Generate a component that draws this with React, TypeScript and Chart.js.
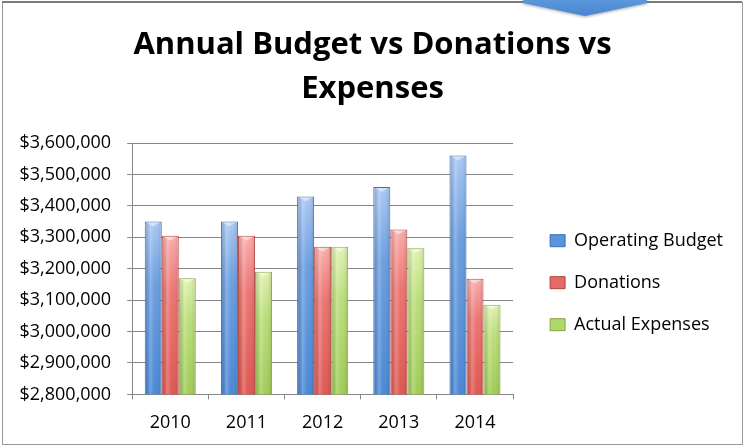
import React, { useEffect, useRef } from 'react';
import { Chart, registerables } from 'chart.js';

Chart.register(...registerables);

const categories = ['2010', '2011', '2012', '2013', '2014'];
const seriesNames = ['Operating Budget', 'Donations', 'Actual Expenses'];
const operatingBudget = [3350000, 3350000, 3430000, 3460000, 3560000];
const donations = [3305000, 3305000, 3270000, 3325000, 3168000];
const actualExpenses = [3170000, 3190000, 3270000, 3265000, 3085000];
const yMin = 2800000;
const yMax = 3600000;
const yStep = 100000;
const titleLines = ['Annual Budget vs Donations vs', 'Expenses'];

const FONT = "'Open Sans', 'DejaVu Sans', sans-serif";
const GRID = '#868686';

const palette = [
  { top: '#a9c8f4', mid: '#6c9fe0', bottom: '#4a88d6', border: '#3b6fb0', legend: '#5b93dc' },
  { top: '#f9aeac', mid: '#ec7672', bottom: '#df5752', border: '#b4423f', legend: '#e36a66' },
  { top: '#e0f2b0', mid: '#bcdf7c', bottom: '#a0cb58', border: '#86a845', legend: '#b0d66c' },
];

function makeBg(i: number) {
  return (c: any) => {
    const chart = c.chart;
    const ys = chart.scales && chart.scales.y;
    const p = palette[i];
    if (!ys || c.type !== 'data' || !chart.chartArea || !c.parsed) return p.mid;
    const top = ys.getPixelForValue(c.parsed.y);
    const bottom = ys.bottom;
    if (!isFinite(top) || bottom - top < 1) return p.mid;
    const g = chart.ctx.createLinearGradient(0, top, 0, bottom);
    g.addColorStop(0, p.top);
    g.addColorStop(0.35, p.mid);
    g.addColorStop(1, p.bottom);
    return g;
  };
}

const framePlugin = {
  id: 'frame',
  beforeDraw(chart: any) {
    const { ctx, width, height } = chart;
    ctx.save();
    ctx.fillStyle = '#ffffff';
    ctx.fillRect(0, 0, width, height);
    ctx.strokeStyle = '#9a9a9a';
    ctx.lineWidth = 1;
    ctx.strokeRect(2.5, 2.5, width - 6, height - 5);
    ctx.strokeStyle = '#7a7a7a';
    ctx.lineWidth = 2;
    ctx.beginPath();
    ctx.moveTo(2, 2);
    ctx.lineTo(width - 4, 2);
    ctx.stroke();
    ctx.restore();
  },
  afterDatasetsDraw(chart: any) {
    const { ctx, chartArea } = chart;
    ctx.save();
    ctx.beginPath();
    ctx.rect(chartArea.left, chartArea.top, chartArea.right - chartArea.left, chartArea.bottom - chartArea.top);
    ctx.clip();
    chart.data.datasets.forEach((_d: any, di: number) => {
      const meta = chart.getDatasetMeta(di);
      meta.data.forEach((el: any) => {
        const { x, y, base, width } = el.getProps(['x', 'y', 'base', 'width'], true);
        const l = x - width / 2 + 1;
        const r = x + width / 2 - 1;
        const b = Math.min(base, chartArea.bottom);
        const h = b - y - 1;
        if (h <= 0) return;
        const g = ctx.createLinearGradient(l, 0, r, 0);
        g.addColorStop(0, 'rgba(0,0,0,0.10)');
        g.addColorStop(0.3, 'rgba(255,255,255,0.22)');
        g.addColorStop(0.6, 'rgba(255,255,255,0.0)');
        g.addColorStop(1, 'rgba(0,0,0,0.10)');
        ctx.fillStyle = g;
        ctx.fillRect(l, y + 1, r - l, h);
        ctx.fillStyle = 'rgba(255,255,255,0.45)';
        ctx.beginPath();
        ctx.moveTo(l + 1, y + 1);
        ctx.lineTo(r - 1, y + 1);
        ctx.lineTo(x, y + 5);
        ctx.closePath();
        ctx.fill();
      });
    });
    ctx.restore();
  },
  afterDraw(chart: any) {
    const { ctx } = chart;
    ctx.save();
    ctx.shadowColor = 'rgba(0,0,0,0.35)';
    ctx.shadowBlur = 3;
    ctx.shadowOffsetY = 1;
    const g = ctx.createLinearGradient(0, 0, 0, 16);
    g.addColorStop(0, '#5b97dc');
    g.addColorStop(1, '#4a86cf');
    ctx.fillStyle = g;
    ctx.beginPath();
    ctx.moveTo(523, 0);
    ctx.lineTo(647, 0);
    ctx.lineTo(647, 3);
    ctx.lineTo(585, 16);
    ctx.lineTo(523, 3);
    ctx.closePath();
    ctx.fill();
    ctx.restore();
  },
};

export default function App() {
  const ref = useRef<HTMLCanvasElement | null>(null);

  useEffect(() => {
    if (!ref.current) return;
    const series = [operatingBudget, donations, actualExpenses];
    const chart = new Chart(ref.current, {
      type: 'bar',
      data: {
        labels: categories,
        datasets: series.map((values, i) => ({
          label: seriesNames[i],
          data: values,
          backgroundColor: makeBg(i),
          borderColor: palette[i].border,
          borderWidth: 1,
          categoryPercentage: 0.67,
          barPercentage: 1.0,
        })),
      },
      options: {
        responsive: false,
        animation: false,
        layout: { padding: { left: 12, right: 13, top: 0, bottom: 0 } },
        plugins: {
          tooltip: { enabled: false },
          title: {
            display: true,
            text: titleLines,
            color: '#000',
            font: { family: FONT, size: 31, weight: 'bold', lineHeight: 44 / 31 },
            padding: { top: 23, bottom: 32 },
          },
          legend: {
            position: 'right',
            fullSize: false,
            align: 'center',
            maxWidth: 400,
            title: { display: true, text: '', padding: { top: 8, bottom: 8 }, font: { size: 10, lineHeight: 1.2 } },
            labels: {
              color: '#000',
              font: { family: FONT, size: 18 },
              boxWidth: 15,
              boxHeight: 12,
              padding: 24,
              generateLabels: (ch: any) =>
                Chart.defaults.plugins.legend.labels.generateLabels(ch).map((l: any, i: number) => ({
                  ...l,
                  fillStyle: palette[i].legend,
                  strokeStyle: palette[i].border,
                  lineWidth: 1,
                })),
            },
          },
        },
        scales: {
          x: {
            grid: { drawOnChartArea: false, drawTicks: true, tickLength: 5, color: GRID, offset: true },
            border: { color: GRID },
            ticks: { color: '#000', font: { family: FONT, size: 18 }, padding: 13 },
          },
          y: {
            min: yMin,
            max: yMax,
            grid: { color: GRID, tickLength: 5, drawTicks: true },
            border: { color: GRID },
            ticks: {
              stepSize: yStep,
              color: '#000',
              font: { family: FONT, size: 18 },
              padding: 16,
              callback: (v: any) => '$' + Number(v).toLocaleString('en-US'),
            },
          },
          gap: {
            type: 'linear',
            position: 'right',
            display: true,
            grid: { display: false, drawTicks: false },
            border: { display: false },
            ticks: { display: false },
            afterFit: (s: any) => {
              s.width = 13;
            },
          },
        },
      },
      plugins: [framePlugin],
    } as any);
    return () => chart.destroy();
  }, []);

  return (
    <div style={{ position: 'absolute', left: 0, top: 0, width: 746, height: 447 }}>
      <canvas ref={ref} width={746} height={447} style={{ display: 'block' }} />
    </div>
  );
}
